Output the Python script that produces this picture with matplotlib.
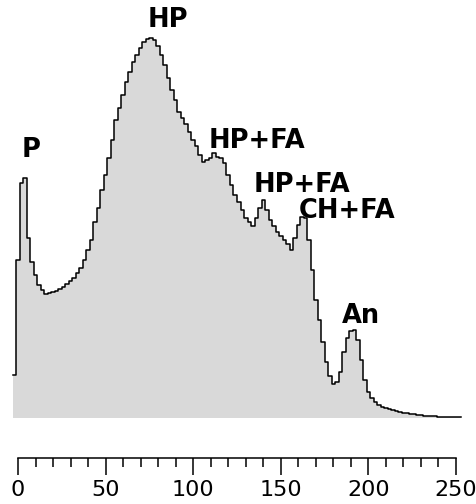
import numpy as np
import matplotlib.pyplot as plt

# histogram: 2-unit channels starting at -3
bin_start = -3
bin_width = 2
counts = [
    43, 158, 235, 240, 180, 156, 143, 133, 128, 124,
    125, 126, 127, 129, 131, 134, 137, 140, 145, 150,
    158, 168, 178, 196, 210, 228, 243, 260, 278, 298,
    310, 323, 336, 346, 356, 363, 370, 376, 379, 380,
    378, 372, 363, 353, 340, 328, 318, 306, 300, 294,
    286, 278, 272, 263, 256, 258, 260, 265, 261, 260,
    255, 243, 233, 223, 216, 208, 200, 196, 192, 200,
    210, 218, 208, 198, 192, 186, 182, 178, 174, 168,
    180, 193, 201, 200, 178, 148, 118, 98, 76, 56,
    42, 34, 36, 46, 66, 80, 87, 88, 78, 58,
    38, 26, 20, 16, 13, 11, 10, 9, 8, 7,
    6, 5, 5, 4, 4, 3, 3, 2, 2, 2,
    2, 1, 1, 1, 1, 1, 1, 1,
]

peak_labels = ["P", "HP", "HP+FA", "HP+FA", "CH+FA", "An"]
label_x = [7.4, 85.6, 136.4, 162.1, 187.8, 195.8]
label_y = [261, 391, 270, 226, 200, 95]

tick_major = [0, 50, 100, 150, 200, 250]
tick_minor = [v for v in range(0, 251, 10) if v % 50]

edges = bin_start + bin_width * np.arange(len(counts) + 1)
xs = np.repeat(edges, 2)[1:-1]
ys = np.repeat(counts, 2)

fig = plt.figure(figsize=(4.77, 5.04), dpi=100)
xlim = (-18 / 1.752, (477 - 18) / 1.752)

ax = fig.add_axes([0, 1 - 418 / 504, 1, 418 / 504])
ax.fill_between(xs, ys, 0, color="#d9d9d9", linewidth=0)
ax.plot(xs, ys, color="black", linewidth=1.1)
ax.set_xlim(*xlim)
ax.set_ylim(0, 418)
ax.axis("off")

for lab, lx, ly in zip(peak_labels, label_x, label_y):
    ax.text(lx, ly, lab, ha="center", va="baseline", fontsize=18.5,
            fontweight="bold", family="DejaVu Sans")

# channel ruler below the histogram
ax2 = fig.add_axes([0, (504 - 458) / 504, 1, 0.02])
ax2.set_xlim(*xlim)
ax2.set_yticks([])
for side in ["top", "left", "right"]:
    ax2.spines[side].set_visible(False)
ax2.spines["bottom"].set_bounds(0, 250)
ax2.spines["bottom"].set_linewidth(1.1)
ax2.set_xticks(tick_major)
ax2.set_xticks(tick_minor, minor=True)
ax2.tick_params(axis="x", which="major", direction="out", length=12,
                width=1.1, pad=4, labelsize=16)
ax2.tick_params(axis="x", which="minor", direction="out", length=6.5,
                width=1.1)
ax2.patch.set_visible(False)

fig.savefig("out.png", dpi=100)
